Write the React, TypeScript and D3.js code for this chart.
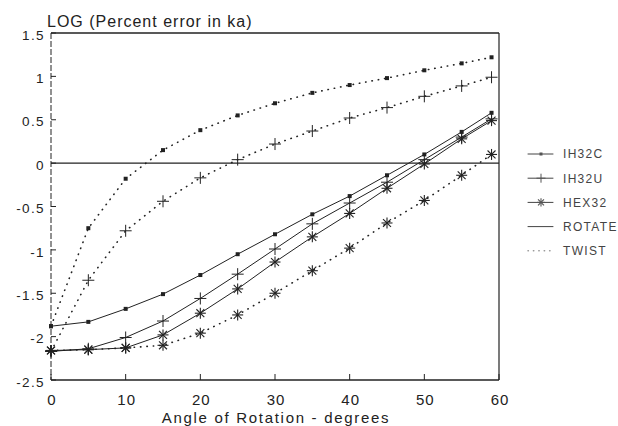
import React from "react";
import * as d3 from "d3";

const angles = [0, 5, 10, 15, 20, 25, 30, 35, 40, 45, 50, 55, 59];
const rotateIH32C = [-1.88, -1.83, -1.68, -1.51, -1.29, -1.05, -0.82, -0.59, -0.38, -0.14, 0.1, 0.36, 0.58];
const rotateIH32U = [-2.17, -2.14, -2.01, -1.82, -1.56, -1.28, -0.99, -0.7, -0.46, -0.22, 0.04, 0.3, 0.51];
const rotateHEX32 = [-2.16, -2.15, -2.13, -1.98, -1.73, -1.45, -1.14, -0.85, -0.58, -0.29, -0.01, 0.28, 0.49];
const twistIH32C = [-1.88, -0.75, -0.18, 0.15, 0.38, 0.55, 0.69, 0.81, 0.9, 0.98, 1.07, 1.15, 1.22];
const twistIH32U = [-2.17, -1.35, -0.78, -0.44, -0.17, 0.04, 0.22, 0.37, 0.52, 0.64, 0.77, 0.89, 0.99];
const twistHEX32 = [-2.16, -2.15, -2.13, -2.1, -1.96, -1.75, -1.5, -1.24, -0.98, -0.69, -0.43, -0.14, 0.1];

const xTicks = [0, 10, 20, 30, 40, 50, 60];
const yTicks = [1.5, 1, 0.5, 0, -0.5, -1, -1.5, -2, -2.5];
const legendNames = ["IH32C", "IH32U", "HEX32", "ROTATE", "TWIST"];

const W = 618, H = 426;
const x = d3.scaleLinear().domain([0, 60]).range([51, 499]);
const y = d3.scaleLinear().domain([-2.5, 1.5]).range([380, 33]);
const ink = "#222";
const font = "Liberation Sans, Arial, sans-serif";

type Marker = "square" | "plus" | "star";

function MarkerG({ kind, cx, cy, size = 1, color = ink }: { kind: Marker; cx: number; cy: number; size?: number; color?: string }) {
  if (kind === "square") {
    const s = 4 * size;
    return <rect x={cx - s / 2} y={cy - s / 2} width={s} height={s} fill={color} />;
  }
  if (kind === "plus") {
    const r = 6 * size;
    return (
      <g stroke={color} strokeWidth={1}>
        <line x1={cx - r} y1={cy} x2={cx + r} y2={cy} />
        <line x1={cx} y1={cy - r} x2={cx} y2={cy + r} />
      </g>
    );
  }
  const r = 5.5 * size;
  const d = r * 0.72;
  return (
    <g stroke={color} strokeWidth={1.1}>
      <line x1={cx - r} y1={cy} x2={cx + r} y2={cy} />
      <line x1={cx} y1={cy - r} x2={cx} y2={cy + r} />
      <line x1={cx - d} y1={cy - d} x2={cx + d} y2={cy + d} />
      <line x1={cx - d} y1={cy + d} x2={cx + d} y2={cy - d} />
    </g>
  );
}

const series = [
  { vals: rotateIH32C, marker: "square" as Marker, dotted: false },
  { vals: rotateIH32U, marker: "plus" as Marker, dotted: false },
  { vals: rotateHEX32, marker: "star" as Marker, dotted: false },
  { vals: twistIH32C, marker: "square" as Marker, dotted: true },
  { vals: twistIH32U, marker: "plus" as Marker, dotted: true },
  { vals: twistHEX32, marker: "star" as Marker, dotted: true },
];

export default function App() {
  const line = d3
    .line<number>()
    .x((_, i) => x(angles[i]))
    .y((v) => y(v));

  return (
    <svg width={W} height={H} style={{ position: "absolute", left: 0, top: 0, background: "#fff" }}>
      {/* frame */}
      <line x1={x(0)} y1={y(1.5)} x2={x(60)} y2={y(1.5)} stroke={ink} strokeWidth={1.5} />
      <line x1={x(60)} y1={y(1.5)} x2={x(60)} y2={y(-2.5)} stroke={ink} strokeWidth={1.2} />
      <line x1={x(0)} y1={y(-2.5)} x2={x(60)} y2={y(-2.5)} stroke={ink} strokeWidth={1.5} />
      <line x1={x(0)} y1={y(1.5)} x2={x(0)} y2={y(-2.5)} stroke={ink} strokeWidth={1} strokeDasharray="6 2" />
      <line x1={x(0)} y1={y(0)} x2={x(60)} y2={y(0)} stroke={ink} strokeWidth={1.3} />
      {/* y ticks */}
      {yTicks.map((t) => (
        <g key={"y" + t}>
          <line x1={x(0)} y1={y(t)} x2={x(0) + 5} y2={y(t)} stroke={ink} strokeWidth={1} />
          <text x={45} y={y(t) + 2} dy="0.35em" textAnchor="end" fontFamily={font} fontSize={13.5} letterSpacing={1.4} fill={ink}>
            {t}
          </text>
        </g>
      ))}
      {/* x ticks */}
      {xTicks.map((t) => (
        <g key={"x" + t}>
          <line x1={x(t)} y1={y(-2.5)} x2={x(t)} y2={y(-2.5) - 6} stroke={ink} strokeWidth={1} />
          <text x={x(t) + 1} y={405} textAnchor="middle" fontFamily={font} fontSize={15} letterSpacing={1} fill={ink}>
            {t}
          </text>
        </g>
      ))}
      <text x={47} y={27} fontFamily={font} fontSize={16} letterSpacing={1} fill={ink}>
        LOG (Percent error in ka)
      </text>
      <text x={x(30) + 1} y={423} textAnchor="middle" fontFamily={font} fontSize={15} letterSpacing={1.7} fill={ink}>
        Angle of Rotation - degrees
      </text>
      {/* series */}
      {series.map((s, si) => (
        <g key={"s" + si}>
          <path
            d={line(s.vals) || ""}
            fill="none"
            stroke={ink}
            strokeWidth={s.dotted ? 1.6 : 1}
            strokeDasharray={s.dotted ? "0.4 6" : undefined}
            strokeLinecap="round"
          />
          {s.vals.map((v, i) => (
            <MarkerG key={i} kind={s.marker} cx={x(angles[i])} cy={y(v)} />
          ))}
        </g>
      ))}
      {/* legend */}
      {legendNames.map((n, i) => {
        const ly = 154 + i * 24.2;
        const kinds: (Marker | null)[] = ["square", "plus", "star", null, null];
        const k = kinds[i];
        return (
          <g key={n}>
            <line
              x1={528}
              y1={ly}
              x2={553}
              y2={ly}
              stroke={i === 4 ? "#999" : "#444"}
              strokeWidth={i === 4 ? 1.5 : 1}
              strokeDasharray={i === 4 ? "0.4 5" : undefined}
              strokeLinecap="round"
            />
            {k && <MarkerG kind={k} cx={541} cy={ly} size={0.75} color="#555" />}
            <text x={563} y={ly} dy="0.36em" fontFamily={font} fontSize={12} letterSpacing={1.3} fill="#444">
              {n}
            </text>
          </g>
        );
      })}
    </svg>
  );
}
